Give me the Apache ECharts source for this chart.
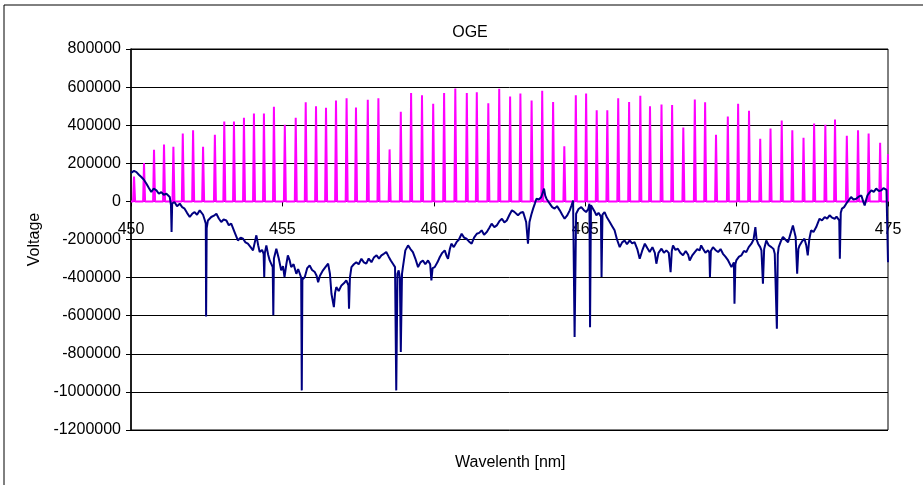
<!DOCTYPE html>
<html lang="en">

<head>
  <meta charset="UTF-8">
  <title>OGE</title>
  <style>
    html, body { margin: 0; padding: 0; background: #fff; }
  </style>
</head>

<body>
  <div class="main" style="width: 923px;height:485px;"></div>

  <script src="https://cdn.jsdelivr.net/npm/echarts@6/dist/echarts.min.js"></script>
  <script>
    // magenta series: peak positions (nm) and peak heights
    const peakPos = [450.10, 450.43, 450.76, 451.09, 451.40, 451.71, 452.05, 452.38, 452.77, 453.08,
      453.40, 453.73, 454.06, 454.39, 454.72, 455.08, 455.44, 455.77, 456.11, 456.44,
      456.77, 457.12, 457.43, 457.82, 458.17, 458.54, 458.91, 459.25, 459.61, 459.98,
      460.34, 460.71, 461.09, 461.42, 461.80, 462.16, 462.52, 462.86, 463.23, 463.58,
      463.94, 464.31, 464.69, 465.03, 465.38, 465.73, 466.09, 466.45, 466.82, 467.14,
      467.52, 467.87, 468.24, 468.62, 468.96, 469.32, 469.71, 470.05, 470.41, 470.78,
      471.12, 471.49, 471.84, 472.21, 472.56, 472.93, 473.25, 473.64, 474.01, 474.36,
      474.74, 475.00]
    const peakHeight = [130000, 201000, 271000, 298000, 287000, 357000, 373000, 287000, 350000, 420000,
      420000, 439000, 462000, 462000, 497000, 402000, 439000, 520000, 499000, 492000,
      530000, 542000, 493000, 534000, 542000, 273000, 471000, 569000, 557000, 513000,
      569000, 593000, 569000, 573000, 515000, 591000, 550000, 567000, 530000, 581000,
      522000, 290000, 557000, 567000, 478000, 478000, 542000, 522000, 555000, 499000,
      508000, 506000, 388000, 535000, 520000, 350000, 446000, 513000, 476000, 329000,
      383000, 425000, 373000, 334000, 409000, 402000, 430000, 345000, 373000, 357000,
      308000, 247000]

    // navy series: wavelength (nm) and voltage (thousands)
    const navyX = [450.00, 450.03, 450.10, 450.18, 450.26, 450.34, 450.42, 450.51, 450.59, 450.67,
      450.75, 450.84, 450.92, 451.00, 451.08, 451.17, 451.28, 451.32, 451.34, 451.36,
      451.44, 451.52, 451.61, 451.69, 451.77, 451.85, 451.94, 452.02, 452.10, 452.18,
      452.27, 452.38, 452.44, 452.47, 452.48, 452.50, 452.54, 452.60, 452.65, 452.74,
      452.82, 452.90, 452.98, 453.06, 453.15, 453.23, 453.31, 453.42, 453.48, 453.53,
      453.62, 453.70, 453.78, 453.86, 453.95, 454.03, 454.14, 454.20, 454.25, 454.33,
      454.38, 454.40, 454.42, 454.47, 454.53, 454.58, 454.64, 454.68, 454.70, 454.72,
      454.80, 454.88, 454.96, 455.02, 455.07, 455.13, 455.18, 455.24, 455.29, 455.37,
      455.46, 455.52, 455.57, 455.62, 455.64, 455.66, 455.74, 455.82, 455.90, 455.98,
      456.07, 456.13, 456.18, 456.24, 456.29, 456.34, 456.42, 456.51, 456.57, 456.62,
      456.70, 456.74, 456.78, 456.86, 456.95, 457.03, 457.11, 457.18, 457.20, 457.23,
      457.28, 457.36, 457.44, 457.52, 457.61, 457.69, 457.77, 457.85, 457.94, 458.02,
      458.11, 458.19, 458.27, 458.35, 458.43, 458.51, 458.58, 458.66, 458.72, 458.76,
      458.80, 458.84, 458.88, 458.91, 458.95, 458.98, 459.06, 459.15, 459.23, 459.31,
      459.39, 459.48, 459.56, 459.64, 459.72, 459.81, 459.88, 459.92, 459.96, 460.03,
      460.12, 460.20, 460.28, 460.36, 460.42, 460.47, 460.53, 460.58, 460.66, 460.75,
      460.83, 460.92, 461.00, 461.08, 461.16, 461.25, 461.33, 461.42, 461.50, 461.58,
      461.66, 461.75, 461.83, 461.91, 462.00, 462.08, 462.16, 462.25, 462.33, 462.41,
      462.50, 462.58, 462.66, 462.78, 462.86, 462.95, 463.05, 463.11, 463.16, 463.22,
      463.28, 463.34, 463.39, 463.47, 463.55, 463.60, 463.64, 463.68, 463.72, 463.78,
      463.83, 463.91, 463.99, 464.07, 464.16, 464.24, 464.32, 464.40, 464.49, 464.55,
      464.60, 464.65, 464.70, 464.78, 464.87, 464.95, 465.03, 465.10, 465.14, 465.16,
      465.19, 465.24, 465.30, 465.37, 465.44, 465.48, 465.52, 465.54, 465.57, 465.64,
      465.72, 465.81, 465.89, 465.97, 466.05, 466.14, 466.22, 466.30, 466.38, 466.47,
      466.55, 466.63, 466.72, 466.80, 466.88, 466.97, 467.05, 467.13, 467.22, 467.30,
      467.35, 467.42, 467.52, 467.60, 467.68, 467.76, 467.82, 467.86, 467.90, 467.98,
      468.06, 468.14, 468.23, 468.32, 468.40, 468.45, 468.53, 468.62, 468.70, 468.78,
      468.83, 468.89, 468.97, 469.06, 469.10, 469.12, 469.15, 469.22, 469.30, 469.39,
      469.47, 469.55, 469.63, 469.72, 469.78, 469.83, 469.91, 469.93, 469.96, 469.99,
      470.08, 470.16, 470.24, 470.32, 470.40, 470.49, 470.56, 470.62, 470.66, 470.71,
      470.78, 470.82, 470.87, 470.91, 470.98, 471.06, 471.15, 471.22, 471.26, 471.33,
      471.36, 471.39, 471.46, 471.53, 471.61, 471.70, 471.78, 471.86, 471.91, 471.95,
      472.00, 472.04, 472.08, 472.16, 472.24, 472.30, 472.35, 472.40, 472.46, 472.54,
      472.63, 472.69, 472.74, 472.82, 472.91, 472.99, 473.07, 473.15, 473.24, 473.30,
      473.36, 473.39, 473.41, 473.44, 473.48, 473.55, 473.62, 473.70, 473.78, 473.86,
      473.95, 474.03, 474.12, 474.18, 474.23, 474.28, 474.32, 474.38, 474.45, 474.53,
      474.61, 474.70, 474.78, 474.85, 474.89, 474.95, 474.98, 475.00]
    const navyY = [150, 145, 160, 154, 140, 128, 115, 93, 70, 49,
      68, 58, 40, 49, 35, 40, 23, -20, -161, -10,
      -4, -25, -12, -30, -38, -60, -82, -65, -56, -70,
      -47, -70, -100, -117, -604, -140, -100, -90, -82, -75,
      -65, -90, -108, -95, -100, -125, -117, -161, -185, -205,
      -190, -196, -215, -222, -240, -257, -178, -230, -266, -255,
      -275, -397, -270, -231, -280, -310, -320, -345, -598, -300,
      -248, -300, -362, -340, -397, -330, -283, -310, -345, -330,
      -380, -355, -362, -400, -992, -410, -397, -350, -336, -360,
      -371, -390, -424, -390, -380, -362, -345, -327, -380, -485,
      -555, -480, -450, -470, -441, -430, -415, -440, -563, -400,
      -345, -330, -319, -330, -301, -320, -327, -300, -319, -295,
      -283, -300, -283, -275, -266, -290, -310, -330, -345, -992,
      -380, -362, -400, -791, -380, -345, -257, -231, -250, -266,
      -300, -345, -320, -310, -330, -310, -330, -415, -350, -345,
      -320, -292, -270, -257, -285, -301, -250, -222, -240, -214,
      -200, -170, -190, -196, -210, -222, -190, -170, -165, -152,
      -175, -161, -140, -117, -135, -126, -105, -91, -110, -100,
      -70, -47, -55, -73, -60, -56, -108, -222, -108, -70,
      -38, -10, 14, 10, 23, 30, 67, 30, 14, 5,
      -12, -30, -38, -25, -47, -70, -91, -75, -47, -20,
      5, -712, -65, -40, -30, -45, -56, -40, -12, -660,
      -20, -12, -50, -73, -60, -56, -80, -397, -70, -56,
      -85, -108, -130, -152, -200, -240, -215, -205, -225, -205,
      -220, -214, -250, -301, -260, -222, -245, -266, -240, -270,
      -327, -270, -248, -270, -257, -270, -371, -260, -231, -255,
      -248, -270, -283, -260, -280, -310, -285, -266, -250, -257,
      -231, -248, -270, -257, -270, -397, -260, -240, -255, -266,
      -250, -275, -290, -310, -300, -345, -320, -537, -330, -310,
      -290, -283, -260, -266, -240, -222, -200, -135, -200, -222,
      -240, -257, -432, -250, -205, -230, -240, -250, -275, -668,
      -280, -240, -210, -187, -200, -214, -170, -126, -160, -187,
      -380, -250, -231, -210, -196, -230, -283, -200, -152, -160,
      -135, -110, -91, -100, -82, -90, -73, -85, -91, -80,
      -73, -100, -301, -60, -38, -30, -12, 5, 23, 10,
      14, 25, 31, 0, -21, 10, 31, 45, 58, 50,
      67, 55, 58, 70, 75, 60, 58, -319]

    const yTicks = { min: -1200000, max: 800000, step: 200000 }
    const xTicks = { min: 450, max: 475, step: 5 }

    // build the spike line from peaks
    const magentaData = [[450, 0]]
    peakPos.forEach((p, i) => {
      magentaData.push([p - 0.03, 0])
      magentaData.push([p, peakHeight[i]])
      magentaData.push([p + 0.035, 0])
    })

    const navyData = navyX.map((x, i) => [x, navyY[i] * 1000])

    var myChart = echarts.init(document.querySelector('.main'));
    const font = 'Liberation Sans, Arial, sans-serif'

    // x axis sits on the zero line of the value axis (Excel style)
    const gridTop = 49, gridBottom = 55, plotH = 485 - gridTop - gridBottom
    const zeroOffset = plotH * (0 - yTicks.min) / (yTicks.max - yTicks.min)

    var option = {
      animation: false,
      backgroundColor: '#fff',
      title: {
        text: 'OGE',
        left: 465,
        top: 20,
        textAlign: 'center',
        textStyle: { fontSize: 16, fontWeight: 'normal', color: '#000', fontFamily: font }
      },
      grid: {
        left: 131, right: 35, top: gridTop, bottom: gridBottom,
        show: true, borderColor: '#000', borderWidth: 1
      },
      xAxis: {
        type: 'value',
        min: xTicks.min,
        max: xTicks.max,
        interval: xTicks.step,
        offset: -zeroOffset,
        axisLine: { onZero: false, lineStyle: { color: '#000' } },
        axisTick: { show: true, length: 5, lineStyle: { color: '#000' } },
        axisLabel: { color: '#000', fontSize: 16, fontFamily: font, margin: 20 },
        splitLine: { show: false }
      },
      yAxis: {
        type: 'value',
        min: yTicks.min,
        max: yTicks.max,
        interval: yTicks.step,
        name: 'Voltage',
        nameLocation: 'middle',
        nameGap: 80,
        nameTextStyle: { color: '#000', fontSize: 16, fontFamily: font },
        axisLine: { show: true, onZero: false, lineStyle: { color: '#000', width: 1.5 } },
        axisTick: { show: true, length: 5, lineStyle: { color: '#000' } },
        axisLabel: { color: '#000', fontSize: 16, fontFamily: font, margin: 10, formatter: v => String(v) },
        splitLine: { show: true, lineStyle: { color: '#000', width: 1 } }
      },
      graphic: [
        {
          type: 'rect',
          shape: { x: 4, y: 5, width: 1000, height: 1000 },
          style: { fill: 'none', stroke: '#000', lineWidth: 1 },
          silent: true
        },
        {
          type: 'text',
          left: 455,
          top: 455,
          style: { text: 'Wavelenth [nm]', fill: '#000', fontSize: 16, fontFamily: font }
        }
      ],
      series: [
        {
          name: 'peaks',
          type: 'line',
          data: magentaData,
          showSymbol: false,
          lineStyle: { color: '#ff00ff', width: 2 }
        },
        {
          name: 'signal',
          type: 'line',
          data: navyData,
          showSymbol: false,
          lineStyle: { color: '#000080', width: 2 }
        }
      ]
    };

    myChart.setOption(option);
  </script>
</body>

</html>
